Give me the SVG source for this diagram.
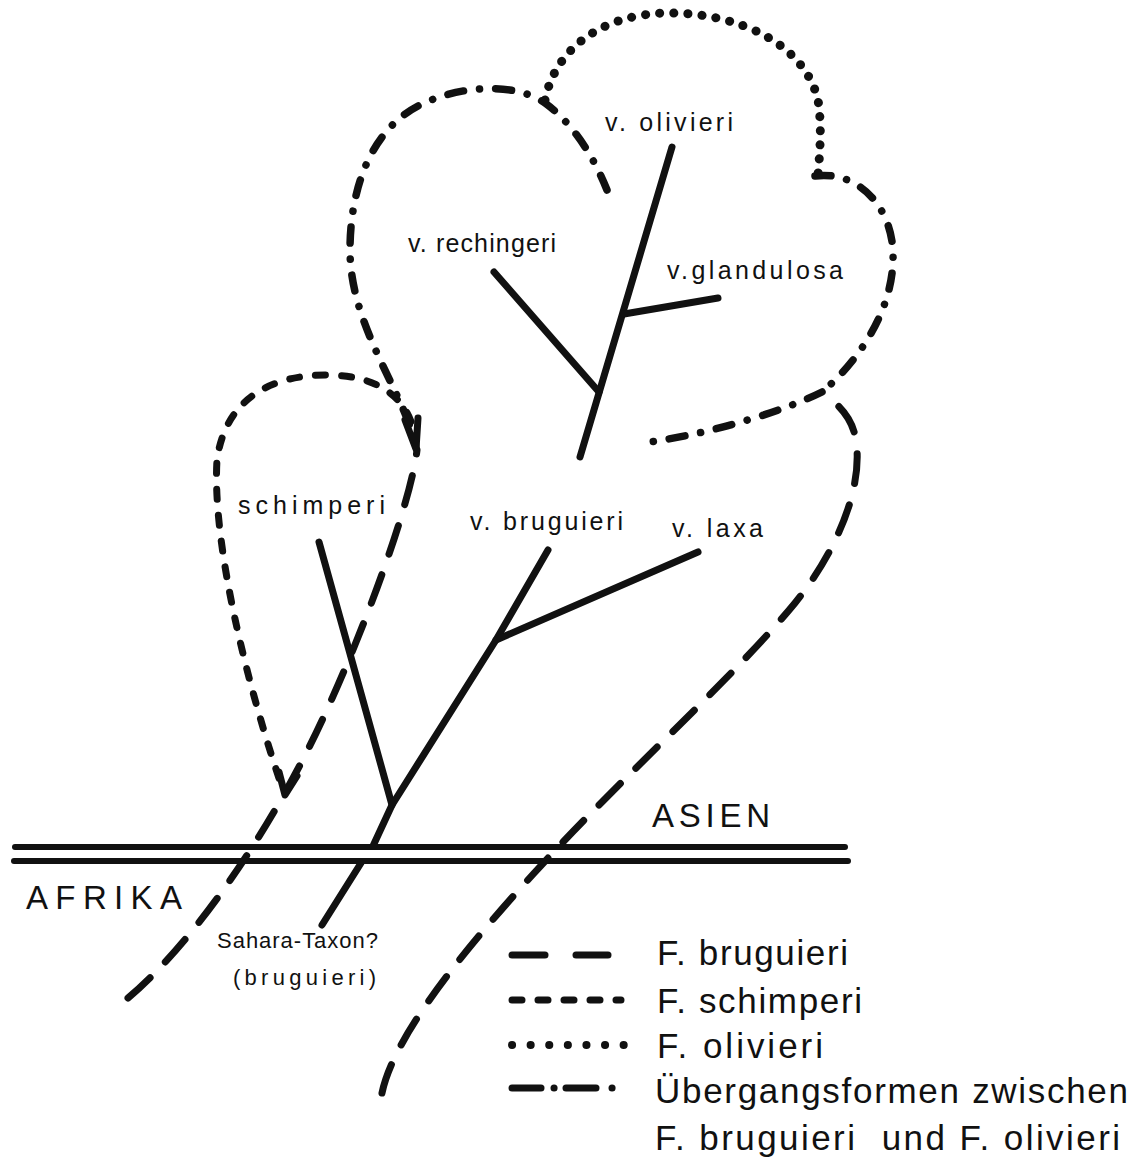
<svg xmlns="http://www.w3.org/2000/svg" width="1146" height="1160" viewBox="0 0 1146 1160">
<style>
  .bg{fill:#fff}
  .solid{fill:none;stroke:#111;stroke-width:7;stroke-linecap:round;stroke-linejoin:round}
  .border{fill:none;stroke:#111;stroke-width:6;stroke-linecap:round}
  .brug{fill:none;stroke:#111;stroke-width:7;stroke-linecap:round;stroke-dasharray:30 22}
  .schim{fill:none;stroke:#111;stroke-width:7;stroke-linecap:round;stroke-dasharray:10 16}
  .oliv{fill:none;stroke:#111;stroke-width:9;stroke-linecap:round;stroke-dasharray:0.1 14}
  .olivleg{fill:none;stroke:#111;stroke-width:8;stroke-linecap:round;stroke-dasharray:0.1 18.5}
  .trans{fill:none;stroke:#111;stroke-width:7.5;stroke-linecap:round;stroke-dasharray:16 16 0.1 16}
  text{font-family:"Liberation Sans","DejaVu Sans",sans-serif;fill:#111}
  .lbl{font-size:25px}
  .big{font-size:33px}
  .leg{font-size:35px}
  .sm{font-size:22px}
</style>
<rect class="bg" x="0" y="0" width="1146" height="1160"/>

<g id="continents">
  <line class="border" x1="15" y1="847" x2="845" y2="847"/>
  <line class="border" x1="14" y1="861" x2="848" y2="861"/>
  <text class="big" x="652" y="827" textLength="118" lengthAdjust="spacing">ASIEN</text>
  <text class="big" x="26" y="909" textLength="156" lengthAdjust="spacing">AFRIKA</text>
</g>

<g id="connectors">
  <!-- F. bruguieri left -->
  <path class="brug" d="M128,998 C185,950 250,860 300,765 C350,670 410,510 417,450"/>
  <!-- F. bruguieri right -->
  <path class="brug" d="M382,1093 C395,1030 480,930 563,842 C633,768 740,670 795,603 C830,560 860,500 857,450 C856,425 845,408 822,393"/>
  <!-- F. schimperi loop -->
  <path class="schim" d="M416,447 C414,400 380,376 330,375 C270,374 225,400 217,460 C212,540 245,680 284,793"/>
  <path class="solid" d="M279,772 L285,795 L297,776"/>
  <path class="solid" d="M405,420 L416,449 L418,418"/>
  <!-- F. olivieri dotted -->
  <path class="oliv" d="M545,100 C555,50 600,15 665,13 C740,12 805,45 818,100 C822,125 820,150 818,175"/>
  <!-- transition dash-dot left lobe -->
  <path class="trans" d="M607,190 C595,160 575,125 545,103 C515,82 460,85 420,105 C370,130 350,190 350,250 C350,320 395,380 412,432"/>
  <!-- transition right lobe -->
  <path class="trans" d="M815,176 C860,170 895,210 893,260 C892,310 860,360 822,392"/>
  <!-- transition lower -->
  <path class="trans" d="M822,392 C790,408 720,432 650,442"/>
</g>

<g id="tree-lower">
  <polyline class="solid" points="373,846 392,805 496,640 548,550"/>
  <line class="solid" x1="392" y1="805" x2="319" y2="542"/>
  <line class="solid" x1="496" y1="640" x2="698" y2="552"/>
  <line class="solid" x1="361" y1="863" x2="322" y2="925"/>
</g>

<g id="tree-upper">
  <line class="solid" x1="580" y1="457" x2="672" y2="147"/>
  <line class="solid" x1="599" y1="392" x2="494" y2="272"/>
  <line class="solid" x1="624" y1="314" x2="718" y2="298"/>
</g>

<g id="labels">
  <text class="lbl" x="605" y="131" textLength="128" lengthAdjust="spacing">v. olivieri</text>
  <text class="lbl" x="408" y="252" textLength="148" lengthAdjust="spacing">v. rechingeri</text>
  <text class="lbl" x="667" y="279" textLength="176" lengthAdjust="spacing">v.glandulosa</text>
  <text class="lbl" x="238" y="514" textLength="147" lengthAdjust="spacing">schimperi</text>
  <text class="lbl" x="470" y="530" textLength="153" lengthAdjust="spacing">v. bruguieri</text>
  <text class="lbl" x="672" y="537" textLength="91" lengthAdjust="spacing">v. laxa</text>
  <text class="sm" x="217" y="948" textLength="161" lengthAdjust="spacing">Sahara-Taxon?</text>
  <text class="sm" x="233" y="985" textLength="143" lengthAdjust="spacing">(bruguieri)</text>
</g>

<g id="legend">
  <line class="solid" x1="512" y1="955" x2="545" y2="955"/>
  <line class="solid" x1="576" y1="955" x2="608" y2="955"/>
  <line class="schim" x1="512" y1="1000" x2="621" y2="1000"/>
  <line class="olivleg" x1="512" y1="1045" x2="624" y2="1045"/>
  <line class="solid" x1="512" y1="1088" x2="541" y2="1088"/>
  <line class="solid" x1="554" y1="1088" x2="554.1" y2="1088"/>
  <line class="solid" x1="566" y1="1088" x2="596" y2="1088"/>
  <line class="solid" x1="612" y1="1088" x2="612.1" y2="1088"/>
  <text class="leg" x="657" y="965" textLength="191" lengthAdjust="spacing">F. bruguieri</text>
  <text class="leg" x="657" y="1013" textLength="205" lengthAdjust="spacing">F. schimperi</text>
  <text class="leg" x="657" y="1058" textLength="166" lengthAdjust="spacing">F. olivieri</text>
  <text class="leg" x="655" y="1103" textLength="473" lengthAdjust="spacing">Übergangsformen zwischen</text>
  <text class="leg" x="655" y="1150" xml:space="preserve" textLength="465" lengthAdjust="spacing">F. bruguieri  und F. olivieri</text>
</g>
</svg>
